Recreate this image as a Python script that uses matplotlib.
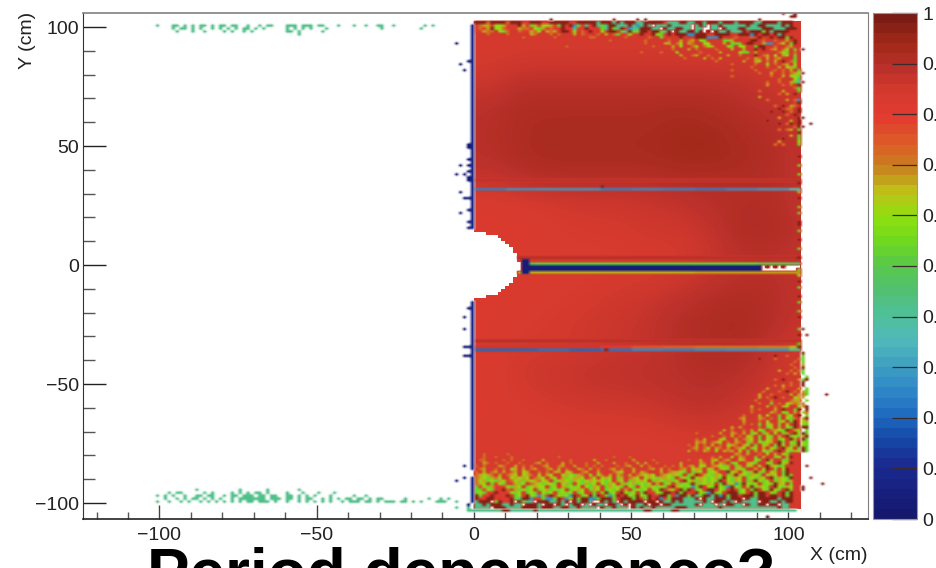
"""
Efficiency map in X/Y (cm), redrawn by eye as a binned colour map.
Speckled zones are typed cell by cell as code strings, the rest is a coarse table.
"""
import matplotlib
matplotlib.use("Agg")
import matplotlib.pyplot as plt
import numpy as np
from matplotlib.cm import ScalarMappable
from matplotlib.colors import LinearSegmentedColormap, ListedColormap, Normalize
from matplotlib.patches import Rectangle
from matplotlib.ticker import MultipleLocator

plt.rcParams["font.family"] = ["Liberation Sans", "DejaVu Sans"]

BIN = 1.25
WHITE = -1.0

# colour scale
PALETTE_POS = [0.0, 0.1, 0.15, 0.2, 0.25, 0.3, 0.35, 0.4, 0.45, 0.5, 0.55, 0.6, 0.65, 0.7, 0.75, 0.8, 0.85, 0.9, 0.95, 1.0]
PALETTE_COL = ["#15186e", "#1a2a90", "#1448a8", "#1f6ac0", "#2f88c8", "#3fa0c0", "#50b8bc", "#4fc09a", "#52c070",
               "#58c84a", "#6fd81e", "#8fe010", "#bfc018", "#c8801f", "#de5a28", "#e23a30", "#d63a2e", "#b9302a",
               "#a02818", "#7b1c14"]

# cell codes used by the strings below
CODES = {"d": 0.985, "r": 0.82, "o": 0.73, "y": 0.67, "l": 0.61, "g": 0.54, "t": 0.42, "b": 0.27, "n": 0.02}

# coarse efficiency table: one row per 10 cm in Y (105 down to -105), one column per 10 cm in X (5 to 105)
BASE_TABLE = [
    [.85, .85, .85, .85, .85, .85, .85, .85, .85, .85, .85],
    [.85, .85, .85, .85, .85, .85, .85, .85, .85, .85, .85],
    [.85, .86, .86, .86, .86, .86, .86, .86, .86, .85, .85],
    [.87, .90, .90, .90, .90, .90, .90, .90, .89, .87, .85],
    [.90, .92, .92, .92, .92, .92, .93, .92, .91, .89, .87],
    [.90, .92, .93, .93, .93, .93, .94, .94, .92, .91, .88],
    [.90, .92, .93, .93, .93, .93, .94, .94, .93, .91, .88],
    [.87, .89, .90, .90, .90, .90, .91, .91, .91, .91, .88],
    [.83, .84, .85, .86, .86, .87, .88, .90, .91, .91, .88],
    [.83, .83, .84, .85, .85, .86, .86, .88, .92, .92, .89],
    [.82, .83, .84, .84, .84, .85, .85, .87, .90, .90, .88],
    [.82, .83, .84, .84, .85, .85, .86, .88, .90, .90, .88],
    [.83, .84, .84, .85, .86, .87, .89, .91, .92, .91, .88],
    [.83, .84, .85, .86, .87, .88, .91, .92, .93, .90, .87],
    [.83, .85, .85, .86, .87, .88, .90, .92, .92, .88, .86],
    [.83, .86, .87, .88, .89, .89, .90, .91, .90, .87, .85],
    [.83, .85, .86, .87, .87, .88, .89, .90, .88, .86, .85],
    [.83, .84, .84, .85, .85, .85, .87, .87, .86, .85, .85],
    [.84, .84, .84, .84, .84, .84, .84, .85, .85, .85, .85],
    [.84, .84, .84, .84, .84, .84, .84, .84, .85, .85, .85],
    [.84, .84, .84, .84, .84, .84, .84, .84, .84, .85, .85],
    [.84, .84, .84, .84, .84, .84, .84, .84, .84, .85, .85],
]

# gaps between sectors, one value per 10 cm in X
GAP_UPPER = [.24, .27, .28, .28, .24, .25, .24, .23, .25, .28, .36]
GAP_LOWER = [.20, .20, .22, .20, .22, .25, .24, .26, .27, .28, .42]
ABOVE_LOWER = [.86, .86, .86, .86, .80, .76, .74, .72, .72, .70, .66]
GAP_UPPER_Y = 31.875
GAP_LOWER_Y = -35.625
CENTRE_GREEN_Y = 0.625
CENTRE_NAVY_Y = [-0.625, -1.875]
CENTRE_YELLOW_Y = -3.125
CENTRE_GREEN = [.50, .50, .52, .52, .53, .53, .53, .53, .53, .50, .46]
CENTRE_NAVY = [.03, .03, .03, .03, .03, .03, .03, .03, .03, .03, .03]
CENTRE_YELLOW = [.67, .67, .67, .67, .67, .67, .67, .68, .68, .68, .68]
DARK_LINE_Y = [35.625, 3.125, -31.875]
DARK_LINE_VAL = [.89, .90, .90]
BLOB_Y = [1.875, 0.625, -3.125]

# central hole: red starts at this X for each row
HOLE_Y = [14.375, 13.125, 11.875, 10.625, 9.375, 8.125, 6.875, 5.625, 4.375, 3.125, 1.875, 0.625,
          -0.625, -1.875, -3.125, -4.375, -5.625, -6.875, -8.125, -9.375, -10.625, -11.875, -13.125, -14.375]
HOLE_X = [0.0, 3.75, 7.5, 8.75, 10.0, 11.25, 12.5, 12.5, 13.75, 13.75, 13.75, 15.0,
          15.0, 15.0, 13.75, 13.75, 12.5, 12.5, 11.25, 10.0, 8.75, 7.5, 3.75, 0.0]

# navy column along X = 0, top and bottom Y range
WALL_Y_TOP = [101.25, 14.375]
WALL_Y_BOTTOM = [-14.375, -100.0]
WALL_NOTCH_Y = [-87.5, -88.75]

# stray cells
NAVY_X = [-5.4, -4.1, -1.6, -2.9, -1.6, -1.6, -1.6, -4.0, -1.6, -1.6, -2.9, -5.4, -1.6, -1.6, -4.0, -3.0, -1.6,
          -1.6, -4.0, -1.6, -1.6, -1.6, -2.6, -3.0, -1.6, -3.0, -1.6, -3.0, -3.0, -5.4, -1.6, -2.9]
NAVY_Y = [93.3, 84.9, 86.0, 81.5, 51.0, 49.0, 44.0, 41.6, 42.0, 39.0, 38.0, 38.0, 37.0, 35.0, 30.0, 28.6, 27.7,
          23.5, 22.0, 17.6, 16.0, -18.0, -22.0, -26.6, -34.5, -35.0, -38.7, -38.7, -85.0, -90.3, -100.6, -88.8]
DARK_X = [24.8, 44.0, 52.0, 54.0, 91.0, 98.0, 100.0, 102.0, 102.0, 106.8, 105.9, 112.0, 110.6, 93.2,
          104.4, 104.4, 104.4, 104.4, 104.4, 104.4, 104.4, 104.4, 104.4, 104.4, 104.4, 104.4, 104.4, 105.6, 106.9, 105.6, 104.4, 41.0, 41.9, 93.0, 95.0, 97.5]
DARK_Y = [103.1, 103.1, 103.1, 103.1, 103.1, 105.6, 104.4, 105.6, 104.4, 59.2, -29.8, -54.6, -92.4, -105.4,
          90.0, 80.0, 76.5, 62.0, 58.0, -26.6, -37.0, -51.0, -68.0, -71.0, -78.6, -93.0, -95.0, -84.0, -89.5, -60.0, -73.0, 33.1, -35.6, -1.2, -1.2, -1.2]
TEAL_X = [-5.4, -1.6, -1.6, -0.6]
TEAL_Y = [-101.9, -101.9, -103.1, -103.1]

# speckle strings, first char at X = 0, top row first
TOP_START_Y = 101.875
TOP_ROWS = [
    "dddoddddodddrrdddrrdddddrrdddddtdddtdtdddttdddddrtttddttddtdddtdddtddddttddddtddd",
    "royyrllyrrrdyrgyrllyrgdrdbgrtrdtgtddtttdtbtdt_tttdttttt_tdt_ttdttttttdttddttttdtd",
    "rorydllorrryoorlgyrorrdrrtrrdrrrgtdgtdrbttdddtt_dttddtt_tt__tt_dtttddttttdddtttddd",
    "rryoo.lgo..orryol.yoy.ddrl.o.dr.lrdd.gtdggddrddgtd_dttddtd_d_dttdtttdrdddgdtddddr",
    "...o....o.....yo...o.o...y.orr.o.y.ogrrlrrdrrdlgrdrdddbbddd.rdddd.rdddbd.ddrdtd..",
    "............o.......o........oo.......o.....or.grr..dr.rdddbbbdr.ro.rrordr.d.ddgd.",
    "..................................o........o.....o..y.oy.lg....ggy....dd.o..o.ry.d",
    "...........................................o....yy.ol.yo..ll...y.ggg.dd..ybb.ol.gd",
    ".......................o.....................o....y.l..ol.oly...lg.ll..gdd..o..oy.",
    "..................................................o...y.o....o...y..y..d.d.oy.ol.g",
    "..........................................o....o...l.....o....y....lgg.y.....olg.o",
    "....................................................y..oy..o....y..o...d.oy.l.yl.g",
    ".....................................................o....y.o.y......o.yo.y.oy...g",
    ".............................................................o......y..yl.o.y.d.og",
    ".................................................................o.....o..l.o.oy.l",
    "......................................................................o...o..y.lyg",
]
TOP_RIGHT_START_X = 73.75
TOP_RIGHT_START_Y = 81.875
TOP_RIGHT_ROWS = [
    "......o.....o...ro.o.y.g",
    ".............o..y..o.oyl.",
    "......o.........o..y.llg",
    "..................o...lt.",
    "...............o..o..ygt",
    "...............y...o.o.d",
    "......................og",
    ".............o.....y...g",
    "..................o.y.d.",
    ".............y..........",
    "...............o....y.ob",
    "......................rd",
    ".................o.d.yo.",
    "..................d.oo.d",
    "................d..d.o.d",
    "....................o.d.",
    "..................y....d",
    "...............d.....y.d",
    "..................d.od.d",
    "......................od",
    "..................o.oy.g",
    ".......................d",
    ".....................y.g",
    "...................d...g",
    "..................y....l",
    ".................o.o...g",
]
EDGE_X = 102.5
EDGE_START_Y = 46.875
EDGE_COL = ".d..g..g..d..y.d..g.g..dd.g..d..g..d...g.l.d.g..d.g..g.d...g.d..gd."
BOTTOM_RIGHT_START_X = 66.25
BOTTOM_RIGHT_START_Y = -38.125
BOTTOM_RIGHT_ROWS = [
    ".......................d..o...g.",
    "...................d...o.....og.",
    "............................o.g.",
    "...........................o..y.",
    "............................o.d.",
    "........................y..o.og.",
    "..........................o.y.g.",
    "...............................g",
    ".......................o.d...ygd",
    "...........................o..d.",
    ".......................o.y.o..g.",
    ".....................y...o...y.g",
    "....................o...o.d.o.yg",
    "...................y..o....y.yog",
    "...................y.o.d.o..lyy.",
    "..................o...o....oyy.g",
    "...................o..g.o.lyoyo.",
    ".................y...y.o.yl..ly.",
    ".................o.o...y.d..gd.d",
    ".................o....yo.lg.y.lo",
    "...............o...y.l..g.yl.d.g",
    "..............oy...yo.o.g.lgo.yd",
    "...............y...o.l..yl.gd.ly",
    "...............o.o.g.ly.g.l.d.lg",
    "............y.y....o.gl.y.lgdrgd",
    "..........y.o..o.y.lg.oylgd.yl.g",
    "...o.....y..yo.y.gl.gy.l.gy.dlyg",
    ".......o..o.y.o.ly.g.lg.y.dglgyd",
    "...o.y...yl..y.oyl.g.ly.gl.dy.lg",
    "...yoy.oyl.o.yo.gy.lgly.dg.lgdlg",
    ".o.y.o.y.o.lyo.yl.g.ly.gdl.gydlg",
    "..oy.ol.yo.y.oyl.gl.y.lg.dyl.gdg",
    ".y.o.yo.l.yoy.l.g.y.lgy.d.lgyldg",
]
BOTTOM_START_Y = -79.375
BOTTOM_ROWS = [
    "..o.....o.........................................................yo.y..o.l.y.lg",
    "..o..o...o...........o.............o...o....................o.y..l.yo..g.y..gl.yd",
    ".oo....o.o..o....y......o.....y..o......y....o........o..y..yl.oy..ly..lg.dy..gg.",
    "..yo.o..o..o...oy.o...y.o...o..y...y..o..y.y..o.....y....yo.y.yo.gl..ylg..lg.dlyd",
    "o.o...yo..y.o.o..oy..oy..y..o.o.o...o.oy..y.o...o.o.y.oy.ll.oylgy.gy.ly.l.dylgg.",
    ".oy..o.o.ly.y.oy..oy.y.o..yo.y.o..oy.o..y...oy.y.o..oy.lyy.ly.ylg.ylg..y.ld.g.ld",
    "o.y.oy.y.oy.ly..o.o.yy.ly..oy..y...oyl..y.yo...y.oyylg.gyl.gly..dly.lgydyg.ly.gd",
    "oylyo.y.oyl.lyo.l.yl..lylgyo.l.lo.y.yo.y.oylyl.oylylg.gyd.ylgyl.gydylgylg.lyl.gdg",
    "oylgyol.rlylyl.oyl.yl.yglyyl.ol.lyl.gy.oyl.lylgyylg.ylgdlylglygdlgyl.glgyl.dgylgd",
    "olyglgylrolygylyoly.glylgylglylylgl.yl.gylyl.gylgygl.dlygylglgd.lgyl.gydlgl.gylgy",
    "oyl.grlgrrygl.oylgllg.lyg.lgygl.lgyl.yglyglgl.y.gl.yglgdyglyl.gdylbgdlgl.glgdyl.g",
    "grlgyrrrlgyl.glyll.gl.yglgl.lgyl.gyllg.lg.lgylglg.dylglbgd.lgdlgbdlg.ldgylg.dlgyl",
    "ggrlgrrdoryglgl.glyglgl.glyl.gyl.glgl.y.glgl.gld.yl.dgd.gl.dd.lg.drgl.gd.lgdlg.dg",
    "glgrrdrrrlgl.glg.lgl.glgl.gl.rg.ldgl.dlgl.gd.rlgdd.dgdr.dlgbdgl.dddgl.dgdd.lg.dgd",
    "dgrrdrrrd.gl.dlgbgrdrlglbd.gldgd.gbgdrdlgdlgd.rddg.bddgdtgddtdbdgddrdddgddrdd.dgd",
    "drrddr.rrdgtddbrrgbbgdrbldgddbbgdddgrdddgdrgdrdbrgdddtttd_dttdddtddd_dttdddddtddd",
    "tddd_gdrrd_dgtt_dddttdtd_dtddt__dtdt_dtdddd_dd_dttdtdtttttdt_ddtdt_dtttt_ddttdtdd",
    "ttdtdddttdtt_dddt_dd_dt_tdd_t_dtt_ddt_d_dttd_dd_ddttttttd_ttt_t_ddtt_dttdd_dd_tt",
    "tttt_dddttttddddtdddttddttdtttt_dttdttt_dtdttdtttttdddttttttttdttttttttttttttdtt",
    "tttttttddttttttdtttttttttttttttttttttttttttddtttttddtttttttttttttttttttttttttttttt",
]

# strips at negative X, first char at X = -101.25
LEFT_START_X = -101.25
LEFT_TOP_START_Y = 100.625
LEFT_TOP_ROWS = [
    "t...tt.t.t.tt.t.tt.tt..t..t.tt...ttt.ttt.tt...t...t..t..tt..t.......t.t",
    "....t.tt.t.t..t.t.t.t.tt.t.t.....t.t.t.t...t.............t.........t....",
    ".....t...t..t....t.t..t.t........tt.t.....t................................",
    "....................................t.................",
]
LEFT_BOTTOM_START_Y = -94.375
LEFT_BOTTOM_ROWS = [
    "..........t..........t......t.......t..................................",
    "...t.tt.....t.t....t.t.t.tt.t....t...t...t...t.........................",
    "t.t.t..t..tt.tt..t.tt.ttt.tt.tt..tt.t.t.t...t.....t..t......................",
    "..t..t.t.tt.t.t.t..t.ttttttt.ttt.tt.t.tt..t.t.t.tt.tt.t.tt.....t.....t..t.t...",
    "t..t..t.t..t.t.t.t.t.t.tt.ttt.t..t..t.t.t.t.t..t.ttt.tt.t.ttt.tt.t.t...ttt..t",
]

X_TICKS = [-100, -50, 0, 50, 100]
Y_TICKS = [-100, -50, 0, 50, 100]
CBAR_TICKS = [0, 0.1, 0.2, 0.3, 0.4, 0.5, 0.6, 0.7, 0.8, 0.9, 1]
CBAR_LABELS = ["0", "0.1", "0.2", "0.3", "0.4", "0.5", "0.6", "0.7", "0.8", "0.9", "1"]
X_LABEL = "X (cm)"
Y_LABEL = "Y (cm)"
SLIDE_TITLE = "Period dependence?"

W, H = 937, 568


def col_of(x, x_edges):
    return np.searchsorted(x_edges, x, side="right") - 1


def row_of(y, y_edges):
    return np.searchsorted(y_edges, y, side="right") - 1


def paint_rows(grid, rows, start_x, start_y, x_edges, y_edges):
    for i, text in enumerate(rows):
        r = row_of(start_y - i * BIN, y_edges)
        c0 = col_of(start_x + BIN / 2, x_edges)
        for j, ch in enumerate(text):
            if ch == ".":
                continue
            grid[r, c0 + j] = WHITE if ch == "_" else CODES[ch]


def build_overlay(x_edges, y_edges):
    # everything on top of the smooth table; nan lets the table show through
    grid = np.full((len(y_edges) - 1, len(x_edges) - 1), np.nan)
    x_mid = (x_edges[:-1] + x_edges[1:]) / 2
    y_mid = (y_edges[:-1] + y_edges[1:]) / 2

    for y, v in zip(DARK_LINE_Y, DARK_LINE_VAL):
        grid[row_of(y, y_edges), (x_mid > 0) & (x_mid < 103.75)] = v
    for c, x in enumerate(x_mid):
        if not 0 < x < 103.75:
            continue
        band = min(int(x // 10), 10)
        grid[row_of(GAP_UPPER_Y, y_edges), c] = GAP_UPPER[band]
        grid[row_of(GAP_LOWER_Y, y_edges), c] = GAP_LOWER[band]
        grid[row_of(GAP_LOWER_Y + BIN, y_edges), c] = ABOVE_LOWER[band]
        if x > 13.75:
            grid[row_of(CENTRE_GREEN_Y, y_edges), c] = CENTRE_GREEN[band]
            grid[row_of(CENTRE_YELLOW_Y, y_edges), c] = CENTRE_YELLOW[band]
            for y in CENTRE_NAVY_Y:
                grid[row_of(y, y_edges), c] = CENTRE_NAVY[band] if x < 91.25 else WHITE

    # hole
    for y, x0 in zip(HOLE_Y, HOLE_X):
        grid[row_of(y, y_edges), (x_mid > 0) & (x_mid < x0)] = WHITE

    # navy blob at the hole tip
    for y in BLOB_Y:
        grid[row_of(y, y_edges), (x_mid > 15.0) & (x_mid < 17.5)] = 0.03

    # wall along X = 0
    wall = col_of(-0.6, x_edges)
    for top, bottom in (WALL_Y_TOP, WALL_Y_BOTTOM):
        grid[(y_mid < top) & (y_mid > bottom), wall] = 0.07
    for y in WALL_NOTCH_Y:
        grid[row_of(y, y_edges), wall] = np.nan

    # speckles
    paint_rows(grid, TOP_ROWS, 0.0, TOP_START_Y, x_edges, y_edges)
    paint_rows(grid, TOP_RIGHT_ROWS, TOP_RIGHT_START_X, TOP_RIGHT_START_Y, x_edges, y_edges)
    paint_rows(grid, list(EDGE_COL), EDGE_X, EDGE_START_Y, x_edges, y_edges)
    paint_rows(grid, BOTTOM_RIGHT_ROWS, BOTTOM_RIGHT_START_X, BOTTOM_RIGHT_START_Y, x_edges, y_edges)
    paint_rows(grid, BOTTOM_ROWS, 0.0, BOTTOM_START_Y, x_edges, y_edges)
    paint_rows(grid, LEFT_TOP_ROWS, LEFT_START_X, LEFT_TOP_START_Y, x_edges, y_edges)
    paint_rows(grid, LEFT_BOTTOM_ROWS, LEFT_START_X, LEFT_BOTTOM_START_Y, x_edges, y_edges)

    # stray cells
    for xs, ys, v in ((NAVY_X, NAVY_Y, 0.02), (DARK_X, DARK_Y, 0.985), (TEAL_X, TEAL_Y, 0.42)):
        for x, y in zip(xs, ys):
            grid[row_of(y, y_edges), col_of(x, x_edges)] = v
    return grid


def main():
    x_edges = np.arange(-125, 125 + BIN, BIN)
    y_edges = np.arange(-106.25, 106.25 + BIN, BIN)
    x_mid = (x_edges[:-1] + x_edges[1:]) / 2
    y_mid = (y_edges[:-1] + y_edges[1:]) / 2
    overlay = build_overlay(x_edges, y_edges)

    stops = list(zip(PALETTE_POS, PALETTE_COL))
    cmap_in = LinearSegmentedColormap.from_list("eff_in", stops, N=256)
    cmap_in.set_bad((0.82, 0.22, 0.17, 0.0))  # transparent cells blend towards red over the table
    cmap_out = LinearSegmentedColormap.from_list("eff_out", stops, N=256)
    cmap_out.set_bad((1.0, 1.0, 1.0, 0.0))  # and towards white outside it
    cmap_bar = LinearSegmentedColormap.from_list("eff_bar", stops, N=50)

    inside = np.outer(np.abs(y_mid) < 102.5, (x_mid > 0) & (x_mid < 103.75))
    painted = overlay >= 0

    fig = plt.figure(figsize=(W / 100, H / 100), dpi=100)
    ax = fig.add_axes([83 / W, 1 - 519 / H, (868 - 83) / W, (519 - 13) / H])

    # smooth table, then white cells (hole and dropouts), then the typed cells
    base = ax.imshow(BASE_TABLE, extent=[0, 110, -110, 110], origin="upper", aspect="auto", cmap=cmap_in,
                     vmin=0, vmax=1, interpolation="bicubic", zorder=1)
    base.set_clip_path(Rectangle((0, -102.5), 103.75, 205, transform=ax.transData))
    ax.pcolormesh(x_edges, y_edges, np.ma.masked_where(overlay != WHITE, overlay),
                  cmap=ListedColormap(["white"]), linewidth=0, zorder=1.5)
    extent = [x_edges[0], x_edges[-1], y_edges[0], y_edges[-1]]
    # two passes: one bilinear pass alone washes out the single cells
    for _ in range(2):
        for mask, cm in ((painted & inside, cmap_in), (painted & ~inside, cmap_out)):
            ax.imshow(np.ma.masked_where(~mask, overlay), extent=extent, origin="lower", aspect="auto", cmap=cm,
                      vmin=0, vmax=1, interpolation="bilinear", interpolation_stage="rgba", zorder=2)

    ax.set_xlim(-124.3, 125.3)
    ax.set_ylim(-106.7, 105.9)
    ax.set_xticks(X_TICKS)
    ax.set_yticks(Y_TICKS)
    ax.set_xticklabels([str(t).replace("-", "\u2212") for t in X_TICKS])
    ax.set_yticklabels([str(t).replace("-", "\u2212") for t in Y_TICKS])
    ax.xaxis.set_minor_locator(MultipleLocator(10))
    ax.yaxis.set_minor_locator(MultipleLocator(10))
    ax.tick_params(axis="x", which="major", direction="in", length=10, width=1.0, color="#444444",
                   labelsize=14, labelcolor="#222222", pad=6)
    ax.tick_params(axis="x", which="minor", direction="in", length=5, width=1.0, color="#555555")
    ax.tick_params(axis="y", which="major", direction="in", length=16.5, width=1.0, color="#222222",
                   labelsize=14, labelcolor="#222222", pad=3)
    ax.tick_params(axis="y", which="minor", direction="in", length=8.5, width=1.0, color="#555555")
    ax.spines["left"].set_color("#333333")
    ax.spines["bottom"].set_color("#222222")
    ax.spines["bottom"].set_linewidth(1.2)
    ax.spines["top"].set_color("#808080")
    ax.spines["top"].set_linewidth(1.2)
    ax.spines["right"].set_color("#808080")

    cax = fig.add_axes([873 / W, 1 - 519 / H, (917 - 873) / W, (519 - 13) / H])
    cbar = fig.colorbar(ScalarMappable(Normalize(0, 1), cmap_bar), cax=cax)
    cbar.set_ticks(CBAR_TICKS)
    cbar.set_ticklabels(CBAR_LABELS)
    cbar.ax.tick_params(direction="in", length=18, width=0.9, color="#3a2a2a", labelsize=14,
                        labelcolor="#222222", pad=4)
    cbar.outline.set_edgecolor("#999999")
    cbar.outline.set_linewidth(0.8)

    fig.text(868 / W, 1 - 555 / H, X_LABEL, ha="right", va="center", fontsize=14, color="#222222")
    fig.text(28 / W, 1 - 40 / H, Y_LABEL, ha="center", va="center", rotation=90, fontsize=14, color="#222222")
    fig.text(461 / W, 1 - 594 / H, SLIDE_TITLE, ha="center", va="baseline", fontsize=46,
             fontweight="bold", color="black")

    fig.savefig("out.png", dpi=100)
    plt.close(fig)


if __name__ == "__main__":
    main()
